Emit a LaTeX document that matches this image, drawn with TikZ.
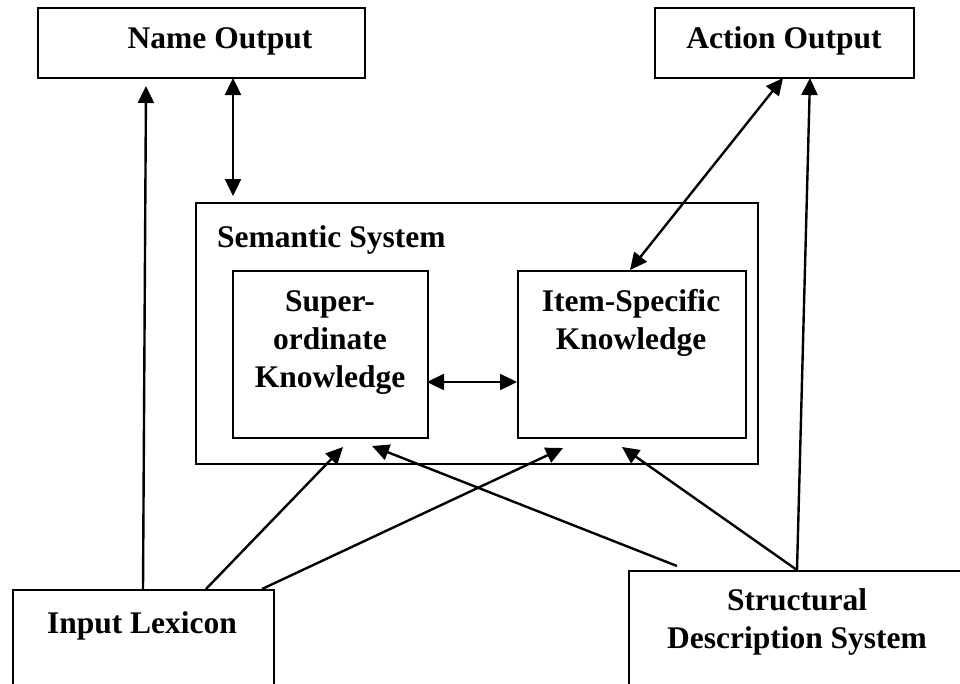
\documentclass[tikz,border=0pt]{standalone}
\usepackage{fontspec}
\setmainfont{Liberation Serif}
\usetikzlibrary{arrows.meta}
\begin{document}
\begin{tikzpicture}[x=1pt,y=-1pt,
  box/.style={draw, line width=2.2pt, anchor=north west, inner sep=0pt},
  lbl/.style={font=\fontsize{31.5}{38}\selectfont\bfseries, align=center, inner sep=0pt},
  conn/.style={line width=2.4pt, -{Triangle[length=17pt,width=16pt]}},
  biconn/.style={line width=2.4pt, {Triangle[length=17pt,width=16pt]}-{Triangle[length=17pt,width=16pt]}}]
\useasboundingbox (0,0) rectangle (960,683);
\clip (0,0) rectangle (960,683);

% boxes
\node[box, minimum width=327pt, minimum height=70pt] (name) at (37,7) {};
\node[box, minimum width=259pt, minimum height=70pt] (action) at (654,7) {};
\node[box, minimum width=562pt, minimum height=261pt] (sem) at (195,202) {};
\node[box, minimum width=195pt, minimum height=167pt] (sup) at (232,270) {};
\node[box, minimum width=228pt, minimum height=167pt] (item) at (517,270) {};
\node[box, minimum width=261pt, minimum height=200pt] (lex) at (12,589) {};
\node[box, minimum width=400pt, minimum height=200pt] (struct) at (628,570) {};

% labels (base of a multi-line label is its last line)
\node[lbl, anchor=base] (nameT) at (220,48) {Name Output};
\node[lbl, anchor=base] (actionT) at (784,48) {Action Output};
\node[lbl, anchor=base west] (semT) at (217,247) {Semantic System};
\node[lbl, anchor=base] (supT) at (330,387) {Super-\\ordinate\\Knowledge};
\node[lbl, anchor=base] (itemT) at (631,349) {Item-Specific\\Knowledge};
\node[lbl, anchor=base] (lexT) at (142,633) {Input Lexicon};
\node[lbl, anchor=base] (structT) at (797,648) {Structural\\Description System};

% connector end points
\coordinate (lexA) at (143,589);
\coordinate (lexB) at (206,589);
\coordinate (lexC) at (262,589);
\coordinate (nameIn) at (146,86);
\coordinate (nameIO) at (233,78);
\coordinate (semIO) at (233,196);
\coordinate (itemTop) at (630,270);
\coordinate (actIO) at (783,78);
\coordinate (actIn) at (810,78);
\coordinate (structA) at (677,566);
\coordinate (structB) at (797,570);
\coordinate (supInA) at (343,447);
\coordinate (supInB) at (372,446);
\coordinate (itemInA) at (563,448);
\coordinate (itemInB) at (622,447);
\coordinate (supR) at (427,382);
\coordinate (itemL) at (517,382);

% connectors
\draw[conn] (lexA) -- (nameIn);
\draw[biconn] (nameIO) -- (semIO);
\draw[biconn] (itemTop) -- (actIO);
\draw[conn] (structB) -- (actIn);
\draw[biconn] (supR) -- (itemL);
\draw[conn] (lexB) -- (supInA);
\draw[conn] (lexC) -- (itemInA);
\draw[conn] (structA) -- (supInB);
\draw[conn] (structB) -- (itemInB);
\end{tikzpicture}
\end{document}
